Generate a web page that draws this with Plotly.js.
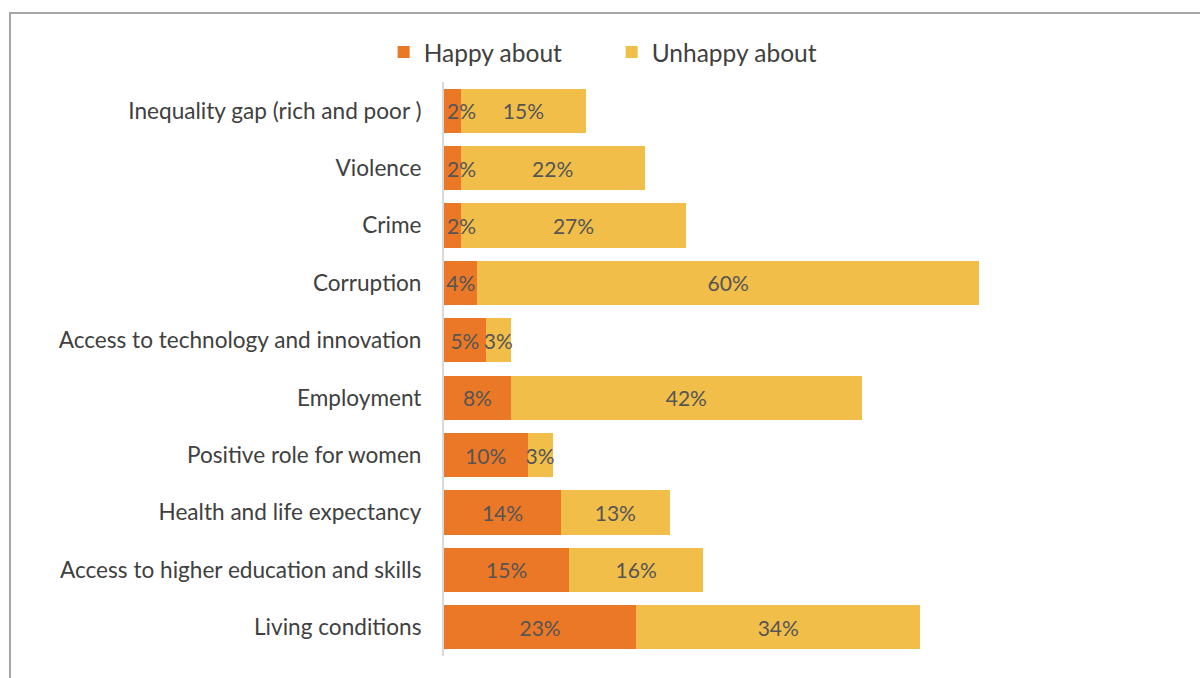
<!DOCTYPE html>
<html>
<head>
<meta charset="utf-8">
<script src="https://cdn.plot.ly/plotly-3.0.1.min.js"></script>
<style>
  html, body { margin: 0; padding: 0; background: #ffffff; overflow: hidden; }
  #chart { position: absolute; left: 0; top: 0; width: 1200px; height: 678px; }
  #frame { position: absolute; left: 9px; top: 12px; width: 1400px; height: 900px;
           border: 2px solid #a6a6a6; pointer-events: none; box-sizing: border-box; }
</style>
</head>
<body>
<div id="chart"></div>
<div id="frame"></div>
<script>
const categories = [
  "Inequality gap (rich and poor )",
  "Violence",
  "Crime",
  "Corruption",
  "Access to technology and innovation",
  "Employment",
  "Positive role for women",
  "Health and life expectancy",
  "Access to higher education and skills",
  "Living conditions"
];
const happyAbout   = [2, 2, 2, 4, 5, 8, 10, 14, 15, 23];
const unhappyAbout = [15, 22, 27, 60, 3, 42, 3, 13, 16, 34];
const seriesNames = ["Happy about", "Unhappy about"];
const seriesColors = ["#EB7826", "#F1BE4A"];

const FONT = "Lato, 'Open Sans', sans-serif";
const labelFont = { family: FONT, size: 21, color: "#555555" };
const pct = v => v + "%";

// labels of very thin "Happy" bars start at the bar's left edge, others are centred
const isThin = v => v < 3;

const labelBar = (axis, texts, anchor) => ({
  type: "bar", orientation: "h", showlegend: false,
  xaxis: axis, yaxis: "y",
  y: categories, x: happyAbout,
  marker: { color: "rgba(0,0,0,0)" },
  text: texts,
  textposition: "inside", insidetextanchor: anchor,
  textangle: 0, constraintext: "none",
  insidetextfont: labelFont,
  hoverinfo: "skip"
});

const data = [
  {
    type: "bar", orientation: "h", name: seriesNames[0],
    y: categories, x: happyAbout,
    marker: { color: seriesColors[0] },
    textposition: "none",
    hoverinfo: "skip"
  },
  {
    type: "bar", orientation: "h", name: seriesNames[1],
    y: categories, x: unhappyAbout,
    marker: { color: seriesColors[1] },
    text: unhappyAbout.map(pct),
    textposition: "inside", insidetextanchor: "middle",
    textangle: 0, constraintext: "none",
    insidetextfont: labelFont,
    hoverinfo: "skip"
  },
  labelBar("x2", happyAbout.map(v => (isThin(v) ? "" : pct(v))), "middle"),
  labelBar("x3", happyAbout.map(v => (isThin(v) ? pct(v) : "")), "start")
];
data[3].cliponaxis = false;

const hiddenX = extra => Object.assign({
  range: [0, 87], visible: false, showgrid: false, zeroline: false, fixedrange: true
}, extra);

const layout = {
  width: 1200, height: 678,
  paper_bgcolor: "#ffffff", plot_bgcolor: "#ffffff",
  margin: { l: 444, r: 29, t: 82, b: 22 },
  barmode: "stack",
  bargap: 0.23,
  showlegend: true,
  legend: {
    orientation: "h", xref: "container", yref: "container",
    x: 0.3197, y: 0.9564, xanchor: "left", yanchor: "top",
    font: { family: FONT, size: 24.5, color: "#404040" },
    traceorder: "normal", entrywidth: 183, itemwidth: 30
  },
  xaxis: hiddenX({}),
  xaxis2: hiddenX({ overlaying: "x" }),
  xaxis3: hiddenX({ overlaying: "x" }),
  yaxis: {
    type: "category", autorange: "reversed",
    showline: true, linecolor: "#d9d9d9", linewidth: 2,
    ticks: "", showgrid: false, zeroline: false,
    ticklabelstandoff: 16,
    tickfont: { family: FONT, size: 22.6, color: "#404040" }
  }
};

Plotly.newPlot("chart", data, layout, { displayModeBar: false, staticPlot: true });
</script>
</body>
</html>
